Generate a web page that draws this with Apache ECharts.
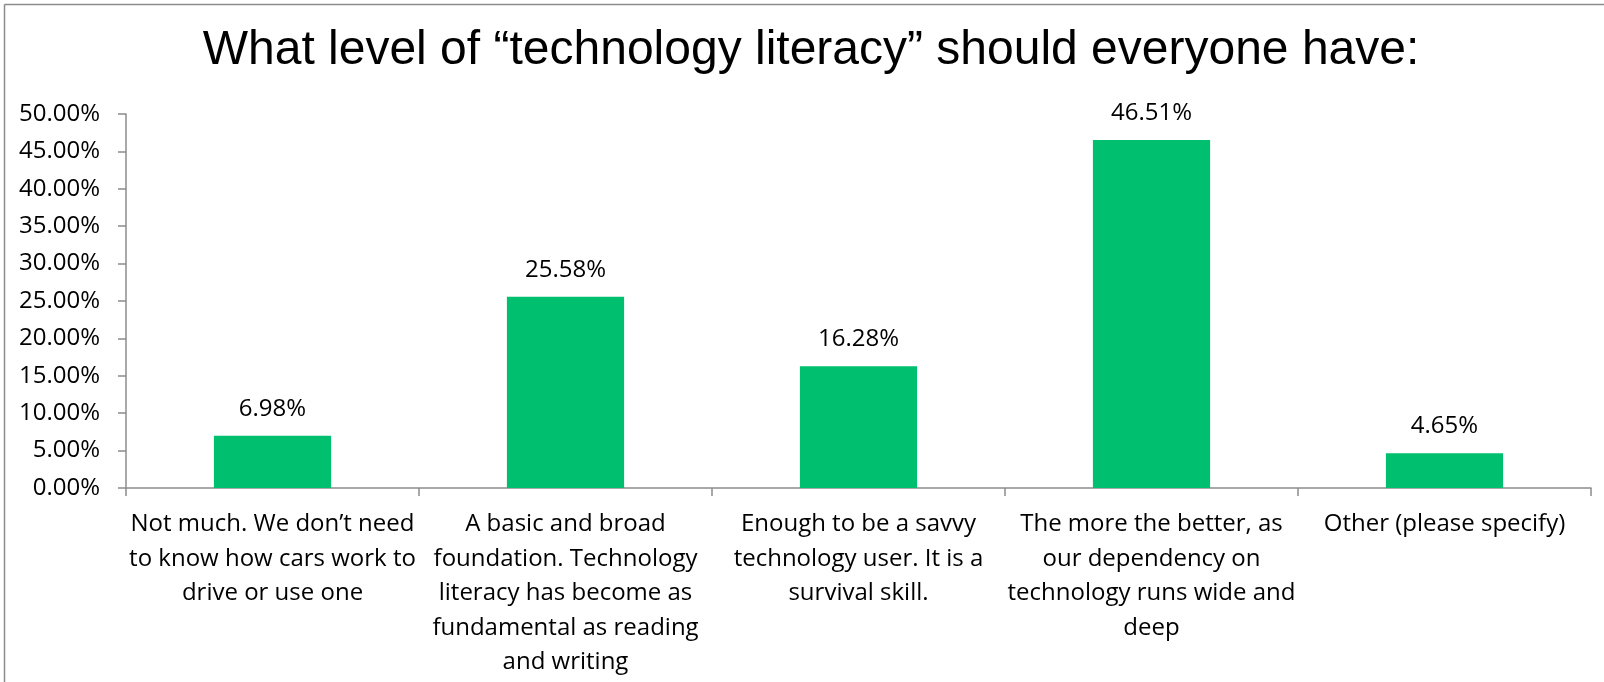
<!DOCTYPE html>
<html>
<head>
<meta charset="utf-8">
<title>Technology literacy</title>
<script src="https://cdn.jsdelivr.net/npm/echarts@6/dist/echarts.min.js"></script>
<style>
  html, body { margin: 0; padding: 0; background: #fff; }
  #chart { width: 1604px; height: 682px; }
</style>
</head>
<body>
<div id="chart"></div>
<script>
var categories = [
    "Not much. We don\u2019t need\nto know how cars work to\ndrive or use one",
    "A basic and broad\nfoundation. Technology\nliteracy has become as\nfundamental as reading\nand writing",
    "Enough to be a savvy\ntechnology user. It is a\nsurvival skill.",
    "The more the better, as\nour dependency on\ntechnology runs wide and\ndeep",
    "Other (please specify)"
];
var shares = [6.98, 25.58, 16.28, 46.51, 4.65];
var titleText = "What level of \u201ctechnology literacy\u201d should everyone have:";

var labelFont = "'Open Sans', 'Noto Sans', sans-serif";
var axisGray = "#8c8c8c";

var chart = echarts.init(document.getElementById("chart"));
chart.setOption({
    animation: false,
    backgroundColor: "#fff",
    title: {
        text: titleText,
        left: 806,
        textAlign: "center",
        top: 22,
        textStyle: {
            fontFamily: "'Liberation Sans', Arial, sans-serif",
            fontSize: 48,
            fontWeight: "normal",
            color: "#000"
        }
    },
    graphic: [
        { type: "line", shape: { x1: 4.5, y1: 4.5, x2: 1604, y2: 4.5 }, style: { stroke: axisGray, lineWidth: 1.5 } },
        { type: "line", shape: { x1: 4.5, y1: 4.5, x2: 4.5, y2: 682 }, style: { stroke: axisGray, lineWidth: 1.5 } }
    ],
    grid: { left: 126, right: 13, top: 114, bottom: 194 },
    xAxis: {
        type: "category",
        data: categories,
        axisLine: { lineStyle: { color: axisGray, width: 1.5 } },
        axisTick: { show: true, length: 8, lineStyle: { color: axisGray, width: 1.5 } },
        axisLabel: {
            interval: 0,
            margin: 19,
            color: "#000",
            fontFamily: labelFont,
            fontSize: 24,
            lineHeight: 34.5,
            align: "center"
        }
    },
    yAxis: {
        type: "value",
        min: 0,
        max: 50,
        interval: 5,
        splitLine: { show: false },
        axisLine: { show: true, lineStyle: { color: axisGray, width: 1.5 } },
        axisTick: { show: true, length: 8, lineStyle: { color: axisGray, width: 1.5 } },
        axisLabel: {
            margin: 26,
            color: "#000",
            fontFamily: labelFont,
            fontSize: 24,
            formatter: function (v) { return v.toFixed(2) + "%"; }
        }
    },
    series: [{
        type: "bar",
        data: shares,
        barWidth: "40%",
        itemStyle: { color: "#00bf6f" },
        label: {
            show: true,
            position: "top",
            distance: 15,
            color: "#000",
            fontFamily: labelFont,
            fontSize: 24,
            formatter: function (p) { return p.value.toFixed(2) + "%"; }
        }
    }]
});
</script>
</body>
</html>
